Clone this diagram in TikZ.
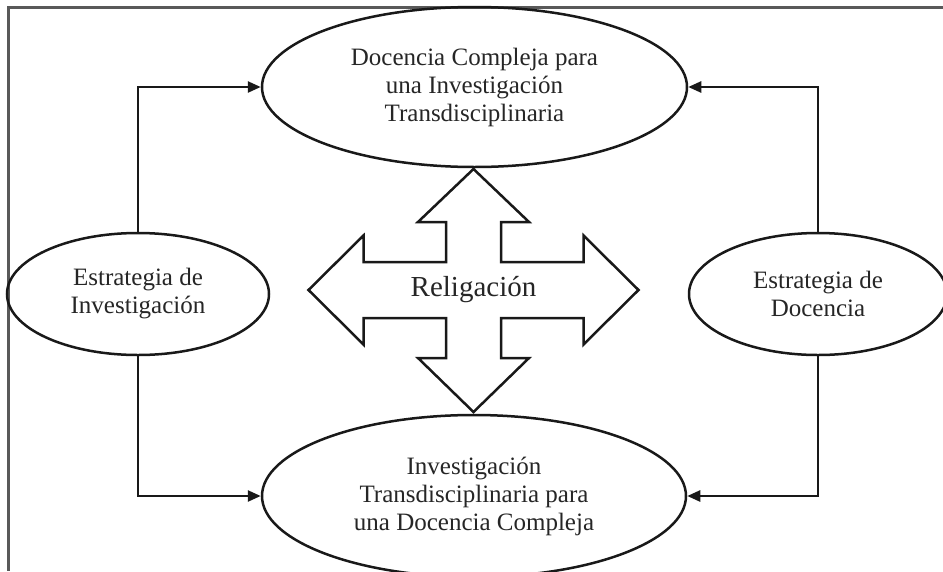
\documentclass[tikz,border=0pt]{standalone}
\usepackage{fontspec}
\setmainfont{Liberation Serif}
\usetikzlibrary{shapes.geometric,arrows.meta}
\begin{document}
\begin{tikzpicture}[x=1pt,y=-1pt,
  oval/.style={ellipse,draw=black!90,line width=2.5pt,inner sep=0pt,align=center,
    text=black!85,font=\fontsize{25}{28}\selectfont},
  conn/.style={draw=black!90,line width=2.5pt,-{Triangle[length=13pt,width=11pt]}},
  frameline/.style={draw=black!65,line width=3pt},
  cross/.style={draw=black!90,line width=2.5pt,line join=miter,fill=white}]
\clip (0,0) rectangle (943,571);
\fill[white] (0,0) rectangle (943,571);
% outer frame, top and left edges
\draw[frameline] (943,7) -- (8,7) -- (8,571);

% the four ovals
\node[oval,minimum width=425pt,minimum height=160pt] (top) at (474.5,87)
  {Docencia Compleja para\\una Investigación\\Transdisciplinaria};
\node[oval,minimum width=424pt,minimum height=162pt] (bot) at (474,496)
  {Investigación\\Transdisciplinaria para\\una Docencia Compleja};
\node[oval,minimum width=262pt,minimum height=122pt] (lft) at (138,294)
  {Estrategia de\\Investigación};
\node[oval,minimum width=258pt,minimum height=122pt] (rgt) at (818,294)
  {Estrategia de\\Docencia};

% four-way arrow in the middle
\coordinate (c) at (473.5,290);
\draw[cross] (c) ++(0,-121) -- ++(55.5,53) -- ++(-28,0) -- ++(0,40) -- ++(82.5,0)
  -- ++(0,-26.5) -- ++(55,54.5) -- ++(-55,54.5) -- ++(0,-26.5) -- ++(-82.5,0)
  -- ++(0,40) -- ++(28,0) -- ++(-55.5,54) -- ++(-55.5,-54) -- ++(28,0)
  -- ++(0,-40) -- ++(-82.5,0) -- ++(0,26.5) -- ++(-55,-54.5) -- ++(55,-54.5)
  -- ++(0,26.5) -- ++(82.5,0) -- ++(0,-40) -- ++(-28,0) -- cycle;
\node[text=black!85,font=\fontsize{29}{32}\selectfont] (rel) at (c) {Religación};

% connectors from the strategies to the two large ovals
\draw[conn] (lft.north) |- (top.west);
\draw[conn] (lft.south) |- (bot.west);
\draw[conn] (rgt.north) |- (top.east);
\draw[conn] (rgt.south) |- (bot.east);
\end{tikzpicture}
\end{document}
